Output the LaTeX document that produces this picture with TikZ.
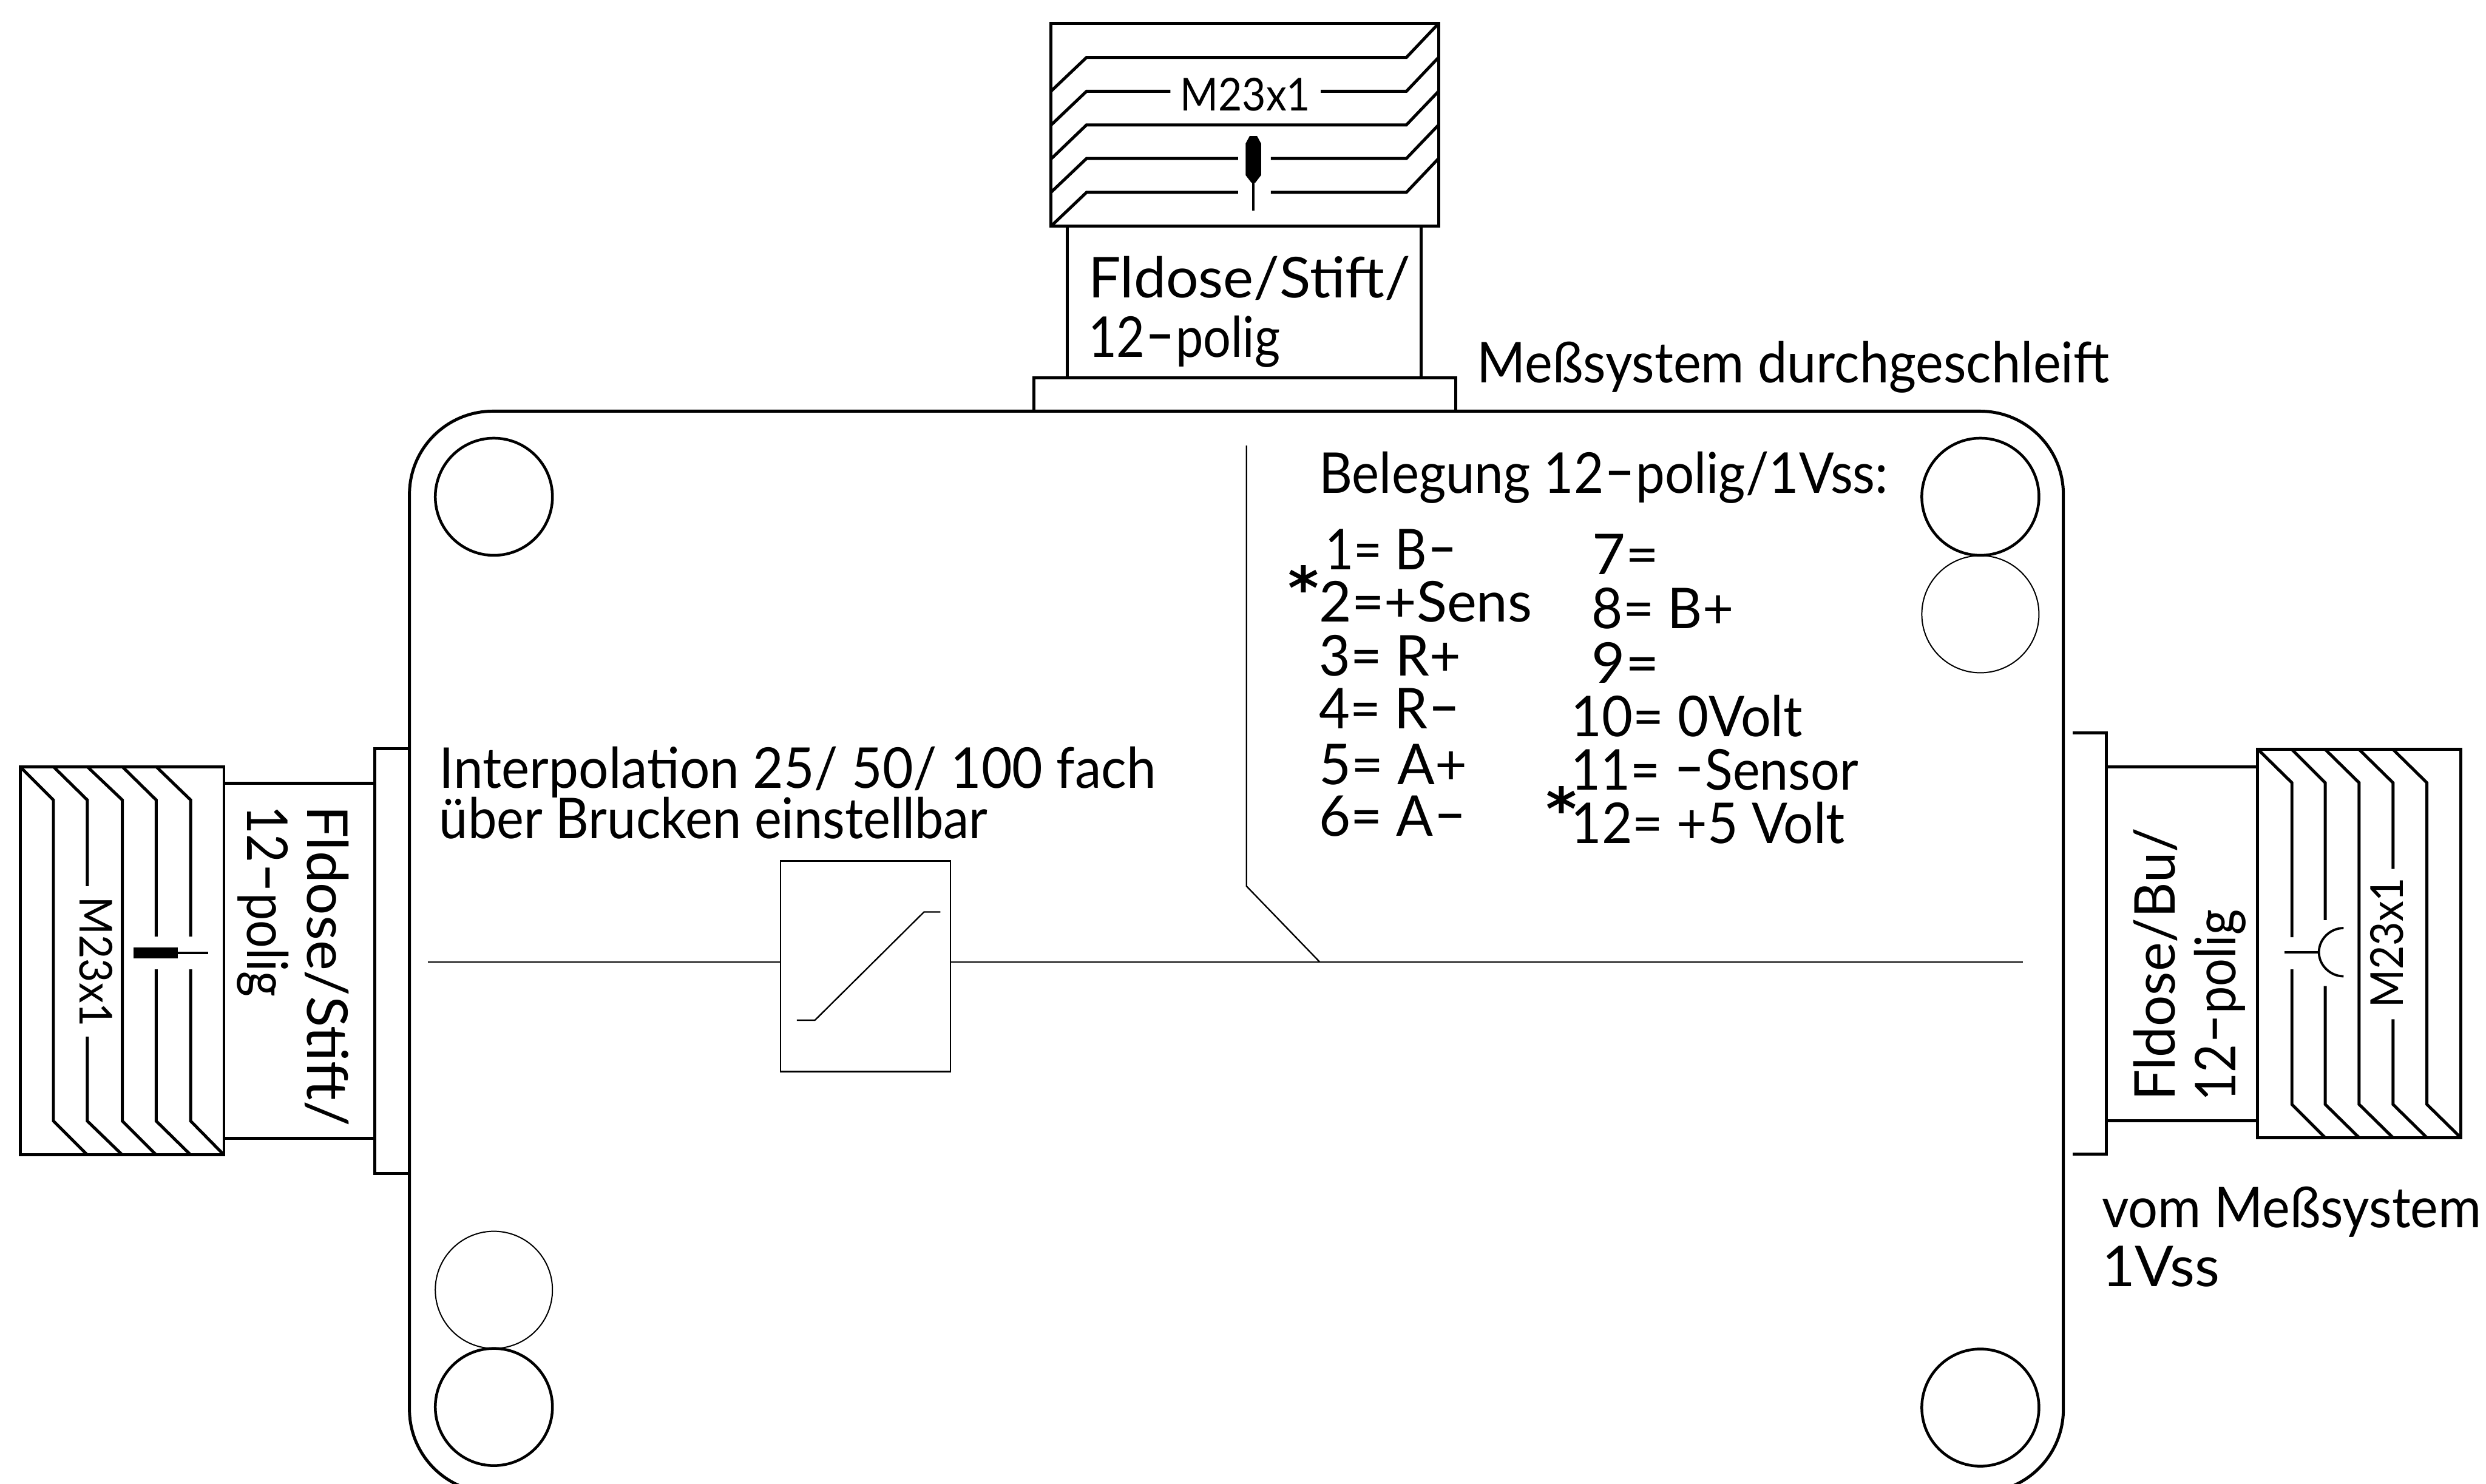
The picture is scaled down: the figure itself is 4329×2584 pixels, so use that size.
\documentclass[tikz,border=0pt]{standalone}
\usepackage{graphicx}
\usepackage{fontspec}
\setmainfont{Lato}
\newfontfamily\starfont{DejaVu Sans}
\newlength\pxu
\setlength\pxu{0.2pt}
\newcommand{\fitw}[2]{\hspace*{-1pt}\resizebox{\dimexpr#1\pxu+2pt\relax}{\height}{#2}}
\newcommand{\hy}{\resizebox{0.62em}{\height}{\raisebox{0.06em}{-}}}
\tikzset{
  thickln/.style={line width=1.05pt,line join=miter,line cap=butt},
  thinln/.style={line width=0.5pt,line join=miter},
  lbl/.style={inner sep=0pt,outer sep=0pt,anchor=base west,font=\fontsize{19.6}{20}\selectfont},
  lbh/.style={lbl,yshift=-0.6pt},
  smlbl/.style={inner sep=0pt,outer sep=0pt,anchor=base west,font=\fontsize{15.8}{16}\selectfont},
  starlbl/.style={inner sep=0pt,outer sep=0pt,anchor=center,font=\fontsize{20.5}{21}\starfont\bfseries},
  hole/.style={draw,circle,line width=0.95pt,minimum size=40.8pt,inner sep=0pt},
  holethin/.style={draw,circle,line width=0.42pt,minimum size=40.8pt,inner sep=0pt},
  interp/.style={draw,rectangle,line width=0.5pt,inner sep=0pt,minimum width=59.2pt,minimum height=73.4pt}
}
\begin{document}
\begin{tikzpicture}[x=0.2pt,y=-0.2pt]
\useasboundingbox (0,0) rectangle (4329,2584);
\fill[white] (0,0) rectangle (4329,2584);
% main housing
\draw[thickln,rounded corners=29pt] (713,716) rectangle (3593,2599);
% holes
\node[hole] (h1) at (860,865) {};
\node[hole] (h2) at (3448.5,865) {};
\node[holethin] (h3) at (3448.5,1069.5) {};
\node[holethin] (h4) at (860,2246) {};
\node[hole] (h5) at (860,2450) {};
\node[hole] (h6) at (3448.5,2451) {};
% top connector
\draw[thickln] (1800,716) -- (1800,658) -- (2535,658) -- (2535,716);
\draw[thickln] (1859,658) -- (1859,394);
\draw[thickln] (2475,658) -- (2475,394);
\draw[thickln] (1830,41) rectangle (2505,394);
\draw[thickln] (1830,159) -- (1892,100) -- (2449,100) -- (2505,41);
\draw[thickln] (1830,218) -- (1892,159) -- (2038,159);
\draw[thickln] (2300,159) -- (2449,159) -- (2505,100);
\draw[thickln] (1830,277) -- (1892,217.5) -- (2449,217.5) -- (2505,159);
\draw[thickln] (1830,335) -- (1892,276) -- (2156,276);
\draw[thickln] (2213,276) -- (2449,276) -- (2505,217.5);
\draw[thickln] (1830,394) -- (1892,335) -- (2156,335);
\draw[thickln] (2213,335) -- (2449,335) -- (2505,276);
\fill (2169,250) -- (2176,237) -- (2189,237) -- (2196,250) -- (2196,305) -- (2186,318) -- (2179,318) -- (2169,305) -- cycle;
\draw[line width=0.8pt] (2182.5,318) -- (2182.5,367);
\node[smlbl,yshift=-0.4pt] (topm) at (2060,191) {\fitw{217}{M23x1}};
\node[lbh] (topa) at (1900,515) {\fitw{551}{Fldose/Stift/}};
\node[lbh] (topb) at (1900,619) {\fitw{324}{12\hy polig}};
% left connector
\draw[thickln] (713,1304) -- (653,1304) -- (653,2043) -- (713,2043);
\draw[thickln] (390,1364) -- (653,1364);
\draw[thickln] (390,1982) -- (653,1982);
\draw[thickln] (35,1335) rectangle (390,2011);
\draw[thickln] (35,1335) -- (93,1393) -- (93,1952) -- (152,2011);
\draw[thickln] (93,1335) -- (152,1393) -- (152,1543);
\draw[thickln] (152,1805) -- (152,1952) -- (213,2011);
\draw[thickln] (152,1335) -- (213,1393) -- (213,1952) -- (272,2011);
\draw[thickln] (213,1335) -- (272,1393) -- (272,1631);
\draw[thickln] (272,1688) -- (272,1952) -- (332,2011);
\draw[thickln] (272,1335) -- (332,1393) -- (332,1631);
\draw[thickln] (332,1688) -- (332,1952) -- (390,2011);
\fill (233,1650) rectangle (310,1669);
\draw[line width=0.8pt] (310,1659) -- (362,1659);
\node[smlbl,rotate=-90] (leftm) at (139,1567) {\fitw{216}{M23x1}};
\node[lbl,rotate=-90] (lefta) at (535,1408) {\fitw{548}{Fldose/Stift/}};
\node[lbl,rotate=-90] (leftb) at (431,1408) {\fitw{323}{12\hy polig}};
% right connector
\draw[thickln] (3609,1276) -- (3668,1276) -- (3668,2010) -- (3609,2010);
\draw[thickln] (3668,1335) -- (3931,1335);
\draw[thickln] (3668,1952) -- (3931,1952);
\draw[thickln] (3931,1305) rectangle (4285,1981);
\draw[thickln] (3932,1305) -- (3991,1363) -- (3991,1632);
\draw[thickln] (3991,1688) -- (3991,1923) -- (4049,1981);
\draw[thickln] (3991,1305) -- (4049,1363) -- (4049,1602);
\draw[thickln] (4049,1717) -- (4049,1923) -- (4108,1981);
\draw[thickln] (4049,1305) -- (4108,1363) -- (4108,1923) -- (4167,1981);
\draw[thickln] (4108,1305) -- (4167,1363) -- (4167,1513);
\draw[thickln] (4167,1775) -- (4167,1923) -- (4226,1981);
\draw[thickln] (4167,1305) -- (4226,1363) -- (4226,1923) -- (4285,1981);
\draw[line width=0.8pt] (3978,1658) -- (4038,1658);
\draw[line width=0.8pt] (4081,1616) .. controls (4058,1616) and (4038,1635) .. (4038,1658) .. controls (4038,1681) and (4058,1700) .. (4081,1700);
\node[smlbl,rotate=90] (rightm) at (4185,1750) {\fitw{217}{M23x1}};
\node[lbl,rotate=90] (righta) at (3787,1912) {\fitw{466}{Fldose/Bu/}};
\node[lbl,rotate=90] (rightb) at (3893,1913) {\fitw{324}{12\hy polig}};
% signal lines
\node[interp] (conv) at (1507,1682.5) {};
\coordinate (sigL) at (745,1675);
\coordinate (sigR) at (3523,1675);
\coordinate (junc) at (2298,1675);
\coordinate (bendc) at (2170.5,1543);
\coordinate (upc) at (2170.5,776);
\draw[thinln] (sigL) -- (conv.west |- sigL);
\draw[thinln] (conv.east |- sigR) -- (sigR);
\draw[thinln] (upc) -- (bendc) -- (junc);
\draw[thinln] (1387.5,1776.5) -- (1419,1776.5) -- (1609,1588) -- (1637.5,1588);
% labels
\node[lbh] (lint) at (770,1369) {\fitw{1238}{Interpolation 25/ 50/ 100 fach}};
\node[lbh] (luber) at (770,1457) {\fitw{945}{über Brucken einstellbar}};
\node[lbh] (lmess) at (2577,663) {\fitw{1091}{Meßsystem durchgeschleift}};
\node[lbh] (lvom) at (3665,2135) {\fitw{651}{vom Meßsystem}};
\node[lbh] (lvss) at (3665,2237) {\fitw{195}{1Vss}};
\node[lbh] (lbel) at (2302,856) {\fitw{981}{Belegung 12\hy polig/1Vss:}};
\node[lbh] (p1) at (2313,989) {\fitw{220}{1= B\hy}};
\node[lbh] (p2) at (2302,1080) {\fitw{361}{2=+Sens}};
\node[lbh] (p3) at (2302,1174) {\fitw{237}{3= R+}};
\node[lbh] (p4) at (2302,1266) {\fitw{237}{4= R\hy}};
\node[lbh] (p5) at (2302,1363) {\fitw{248}{5= A+}};
\node[lbh] (p6) at (2302,1453) {\fitw{248}{6= A\hy}};
\node[lbh] (p7) at (2778,997) {\fitw{106}{7=}};
\node[lbh] (p8) at (2777,1091) {\fitw{237}{8= B+}};
\node[lbh] (p9) at (2777,1186) {\fitw{107}{9=}};
\node[lbh] (p10) at (2741,1279) {\fitw{393}{10= 0Volt}};
\node[lbh] (p11) at (2741,1372) {\fitw{490}{11= \hy Sensor}};
\node[lbh] (p12) at (2741,1465) {\fitw{467}{12= +5 Volt}};
\node[starlbl] (s1) at (2270,1023) {*};
\node[starlbl] (s2) at (2719,1407) {*};
\end{tikzpicture}
\end{document}
